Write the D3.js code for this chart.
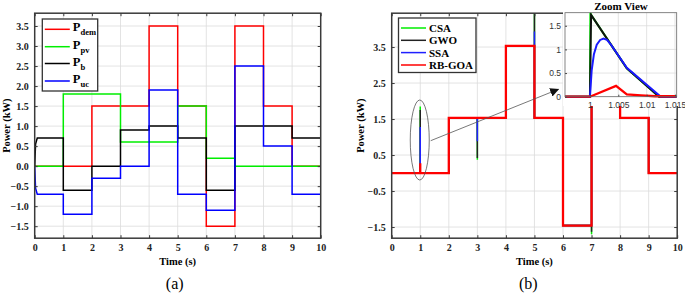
<!DOCTYPE html>
<html>
<head>
<meta charset="utf-8">
<script src="https://cdn.jsdelivr.net/npm/d3@7"></script>
<style>
  body { margin: 0; background: #fff; }
  svg { display: block; font-family: "Liberation Serif", "Times New Roman", serif; }
</style>
</head>
<body>
<svg id="chart" width="685" height="294"></svg>
<script>
// ---- data (a) : power sharing, one value per 1 s interval ----
const timeSteps = [0, 1, 2, 3, 4, 5, 6, 7, 8, 9, 10];
const pDem = [0, 0, 1.5, 1.5, 3.5, 1.5, -1.5, 3.5, 1.5, 0];
const pPv = [0, 1.8, 1.8, 0.6, 0.6, 1.5, 0.2, 0, 0, 0];
const pB = [0.7, -0.6, 0, 0.9, 1.0, 0.7, -0.6, 1.0, 1.0, 0.7];
const pUc = [-0.7, -1.2, -0.3, 0, 1.9, -0.7, -1.1, 2.5, 0.5, -0.7];
// start-up transients [t, value]
const pBStart = [[0, 0], [0.03, 0.55], [0.09, 0.7]];
const pUcStart = [[0, 0], [0.03, -0.55], [0.09, -0.7]];
const yTicksA = [-1.5, -1.0, -0.5, 0.0, 0.5, 1.0, 1.5, 2.0, 2.5, 3.0, 3.5];

// ---- data (b) : optimiser comparison ----
const demandB = [0, 0, 1.53, 1.53, 3.53, 1.53, -1.46, 3.53, 1.53, 0];
// peak value at the switching instant (time -> value)
const spikesCSA = { 1: 1.85, 3: 0.37, 5: 4.6, 7: -1.7 };
const spikesGWO = { 1: 1.75, 3: 0.42, 5: 4.6, 7: -1.63 };
const spikesSSA = { 1: 1.28, 3: 0.88, 5: 3.93 };
const spikesRB = { 1: 0.27 };
const yTicksB = [-1.5, -0.5, 0.5, 1.5, 2.5, 3.5];

// ---- zoom view data [t, value] ----
const zoomCSA = [[0.9956, 0], [1, 0], [1.00008, 1.78], [1.0002, 1.73], [1.0065, 0.6], [1.0122, 0], [1.0153, 0]];
const zoomGWO = [[0.9956, 0], [1, 0], [1.0002, 1.73], [1.0065, 0.6], [1.0122, 0], [1.0153, 0]];
const zoomSSA = [[0.9956, 0], [1, 0], [1.0003, 0.55], [1.0007, 0.9], [1.0012, 1.1], [1.0018, 1.2],
  [1.0024, 1.23], [1.003, 1.2], [1.0037, 1.1], [1.0045, 0.96], [1.0065, 0.61], [1.0125, 0], [1.0153, 0]];
const zoomRB = [[0.9956, 0], [1, 0], [1.0046, 0.23], [1.0065, 0.05], [1.009, 0.03], [1.0115, 0.01], [1.0153, 0.01]];
const zoomXTicks = [1, 1.005, 1.01, 1.015];
const zoomYTicks = [0, 0.5, 1, 1.5];

const svg = d3.select("#chart");
const frameColour = "#3a3a3a";
const gridColour = "#dcdcdc";
const serif = "'Liberation Serif', 'Times New Roman', serif";
const sans = "'Liberation Sans', Arial, sans-serif";

// step series -> list of points, with optional vertical spikes
function stepPoints(values, spikes = {}, start = null) {
  const pts = start ? start.slice() : [[0, values[0]]];
  values.forEach((v, i) => {
    if (i > 0) {
      pts.push([i, values[i - 1]]);
      if (spikes[i] !== undefined) pts.push([i, spikes[i]]);
      pts.push([i, v]);
    }
  });
  pts.push([values.length, values[values.length - 1]]);
  return pts;
}

function drawPanel(opt) {
  const x = d3.scaleLinear().domain([0, 10]).range(opt.xRange);
  const y = d3.scaleLinear().domain(opt.yDomain).range([238.2, 13.2]);
  const g = svg.append("g");
  const [x0, x1] = opt.xRange;

  // grid
  g.append("g").selectAll("line").data(opt.yTicks).join("line")
    .attr("x1", x0).attr("x2", x1)
    .attr("y1", (d) => y(d)).attr("y2", (d) => y(d))
    .attr("stroke", gridColour).attr("stroke-width", 0.8);
  g.append("g").selectAll("line").data(timeSteps.slice(1, -1)).join("line")
    .attr("x1", (d) => x(d)).attr("x2", (d) => x(d))
    .attr("y1", 13.2).attr("y2", 238.2)
    .attr("stroke", gridColour).attr("stroke-width", 0.8);

  // clip
  svg.append("clipPath").attr("id", opt.id + "Clip")
    .append("rect").attr("x", x0).attr("y", 13.2).attr("width", x1 - x0).attr("height", 225);

  const line = d3.line().x((d) => x(d[0])).y((d) => y(d[1]));
  const lines = g.append("g").attr("clip-path", `url(#${opt.id}Clip)`);
  opt.series.forEach((s) => {
    lines.append("path").attr("d", line(s.points))
      .attr("fill", "none").attr("stroke", s.colour)
      .attr("stroke-width", s.width).attr("stroke-linejoin", "miter");
  });

  // axes with inward ticks
  const tickFmt = d3.format(".1f");
  const axB = d3.axisBottom(x).tickValues(timeSteps).tickSize(-3).tickPadding(6);
  const axT = d3.axisTop(x).tickValues(timeSteps).tickSize(-3).tickFormat("");
  const axL = d3.axisLeft(y).tickValues(opt.yTicks).tickSize(-3).tickPadding(6).tickFormat(tickFmt);
  const axR = d3.axisRight(y).tickValues(opt.yTicks).tickSize(-3).tickFormat("");
  [[axB, `translate(0,238.2)`], [axT, `translate(0,13.2)`], [axL, `translate(${x0},0)`], [axR, `translate(${x1},0)`]]
    .forEach(([ax, tr]) => {
      const a = g.append("g").attr("transform", tr).call(ax);
      a.select(".domain").remove();
      a.selectAll("line").attr("stroke", frameColour).attr("stroke-width", 1);
      a.selectAll("text").style("font-family", serif).style("font-weight", "bold")
        .style("font-size", "10px").attr("fill", "#222");
    });
  g.append("rect").attr("x", x0).attr("y", 13.2).attr("width", x1 - x0).attr("height", 225)
    .attr("fill", "none").attr("stroke", frameColour).attr("stroke-width", 1.5);

  // labels
  g.append("text").attr("x", (x0 + x1) / 2).attr("y", 264.5).attr("text-anchor", "middle")
    .style("font-family", serif).style("font-weight", "bold").style("font-size", "10.5px").text("Time (s)");
  g.append("text").attr("transform", `translate(${opt.yLabelX},125.7) rotate(-90)`)
    .attr("text-anchor", "middle").style("font-family", serif).style("font-weight", "bold")
    .style("font-size", "10.5px").text("Power (kW)");
  g.append("text").attr("x", opt.captionX).attr("y", 288.5).attr("text-anchor", "middle")
    .style("font-family", serif).style("font-size", "16px").text(opt.caption);
  return { x, y, g };
}

// ---------- panel (a) ----------
const panelA = drawPanel({
  id: "a", xRange: [34.7, 320.7], yDomain: [-1.8, 3.82], yTicks: yTicksA,
  yLabelX: 9.5, captionX: 174.7, caption: "(a)",
  series: [
    { points: stepPoints(pDem), colour: "#ff0000", width: 1.5 },
    { points: stepPoints(pPv), colour: "#00ee00", width: 1.5 },
    { points: stepPoints(pB, {}, pBStart), colour: "#000000", width: 1.5 },
    { points: stepPoints(pUc, {}, pUcStart), colour: "#0000ff", width: 1.5 },
  ],
});

function legend(x0, y0, w, h, rows, rowY, withSub) {
  const lg = svg.append("g");
  lg.append("rect").attr("x", x0).attr("y", y0).attr("width", w).attr("height", h)
    .attr("fill", "#fff").attr("stroke", "#333").attr("stroke-width", 1.3);
  rows.forEach((r, i) => {
    lg.append("line").attr("x1", x0 + 2.5).attr("x2", x0 + 27.5)
      .attr("y1", rowY[i]).attr("y2", rowY[i]).attr("stroke", r.colour).attr("stroke-width", 1.5);
    const t = lg.append("text").attr("x", x0 + 30.5).attr("y", rowY[i] + (withSub ? 2 : 4))
      .style("font-family", serif).style("font-weight", "bold")
      .style("font-size", withSub ? "12.5px" : "11px");
    if (withSub) {
      t.append("tspan").text("P");
      t.append("tspan").attr("dy", 4).style("font-size", "8.5px").text(r.sub);
    } else {
      t.text(r.label);
    }
  });
}

legend(42.3, 19, 55.4, 72, [
  { colour: "#ff0000", sub: "dem" },
  { colour: "#00ee00", sub: "pv" },
  { colour: "#000000", sub: "b" },
  { colour: "#0000ff", sub: "uc" },
], [29.3, 46.7, 63.5, 81], true);

// ---------- panel (b) ----------
const panelB = drawPanel({
  id: "b", xRange: [391.7, 677.2], yDomain: [-1.81, 4.44], yTicks: yTicksB,
  yLabelX: 364, captionX: 528.3, caption: "(b)",
  series: [
    { points: stepPoints(demandB, spikesCSA), colour: "#00ee00", width: 1.5 },
    { points: stepPoints(demandB, spikesGWO), colour: "#222222", width: 1.5 },
    { points: stepPoints(demandB, spikesSSA), colour: "#2020ff", width: 1.5 },
    { points: stepPoints(demandB, spikesRB), colour: "#ff0000", width: 2.3 },
  ],
});

legend(398.5, 18, 77.5, 54.5, [
  { colour: "#00ee00", label: "CSA" },
  { colour: "#222222", label: "GWO" },
  { colour: "#2020ff", label: "SSA" },
  { colour: "#ff0000", label: "RB-GOA" },
], [28, 40.3, 52.6, 65], false);

// ellipse marking the t = 1 s transient and arrow to the zoom view
svg.append("ellipse").attr("cx", panelB.x(1) - 0.5).attr("cy", 140).attr("rx", 9.5).attr("ry", 40)
  .attr("fill", "none").attr("stroke", "#555").attr("stroke-width", 0.8);
svg.append("defs").append("marker").attr("id", "arrowHead")
  .attr("viewBox", "0 0 10 10").attr("refX", 9).attr("refY", 5)
  .attr("markerWidth", 9).attr("markerHeight", 9).attr("markerUnits", "userSpaceOnUse")
  .attr("orient", "auto")
  .append("path").attr("d", "M0,0 L10,5 L0,10 z").attr("fill", "#111");
svg.append("line").attr("x1", 430.7).attr("y1", 140.7).attr("x2", 558.3).attr("y2", 89.3)
  .attr("stroke", "#555").attr("stroke-width", 0.8).attr("marker-end", "url(#arrowHead)");

// ---------- zoom view ----------
const zx = d3.scaleLinear().domain([0.9956, 1.0153]).range([565, 676.7]);
const zy = d3.scaleLinear().domain([0, 1.776]).range([96.7, 12.7]);
const zg = svg.append("g");
zg.append("rect").attr("x", 563).attr("y", 12).attr("width", 122).attr("height", 94).attr("fill", "#fff");
zg.append("g").selectAll("line").data(zoomYTicks.slice(1)).join("line")
  .attr("x1", 565).attr("x2", 676.7).attr("y1", (d) => zy(d)).attr("y2", (d) => zy(d))
  .attr("stroke", gridColour).attr("stroke-width", 0.8);
zg.append("g").selectAll("line").data(zoomXTicks).join("line")
  .attr("x1", (d) => zx(d)).attr("x2", (d) => zx(d)).attr("y1", 12.7).attr("y2", 96.7)
  .attr("stroke", gridColour).attr("stroke-width", 0.8);
svg.append("clipPath").attr("id", "zClip")
  .append("rect").attr("x", 565).attr("y", 12.7).attr("width", 111.7).attr("height", 86);
const zline = d3.line().x((d) => zx(d[0])).y((d) => zy(d[1]));
const zl = zg.append("g").attr("clip-path", "url(#zClip)");
[[zoomCSA, "#00ee00", 2], [zoomGWO, "#111", 2], [zoomSSA, "#1a1aff", 2], [zoomRB, "#ff0000", 2.3]]
  .forEach(([d, c, w]) => {
    zl.append("path").attr("d", zline(d)).attr("fill", "none").attr("stroke", c).attr("stroke-width", w);
  });
const zAxX = zg.append("g").attr("transform", "translate(0,96.7)")
  .call(d3.axisBottom(zx).tickValues(zoomXTicks).tickSize(-2).tickPadding(5).tickFormat(d3.format("")));
const zAxY = zg.append("g").attr("transform", "translate(565,0)")
  .call(d3.axisLeft(zy).tickValues(zoomYTicks).tickSize(-2).tickPadding(4).tickFormat(d3.format("")));
[zAxX, zAxY].forEach((a) => {
  a.select(".domain").remove();
  a.selectAll("line").attr("stroke", "#444");
  a.selectAll("text").style("font-family", sans).style("font-size", "8.5px").attr("fill", "#333");
});
zg.append("rect").attr("x", 565).attr("y", 12.7).attr("width", 111.7).attr("height", 84)
  .attr("fill", "none").attr("stroke", "#666").attr("stroke-width", 0.8);
zg.append("text").attr("x", 621).attr("y", 10).attr("text-anchor", "middle")
  .style("font-family", serif).style("font-weight", "bold").style("font-size", "11px").text("Zoom View");
</script>
</body>
</html>
